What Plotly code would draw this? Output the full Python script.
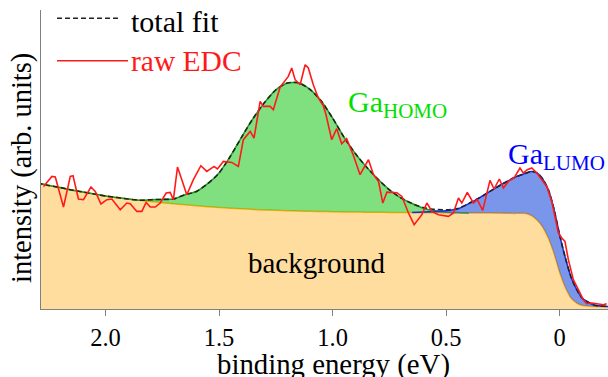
import plotly.graph_objects as go

# ---------------- data ----------------
energy_fit = [2.30, 2.25, 2.20, 2.15, 2.10, 2.05, 2.00, 1.95, 1.90, 1.85, 1.80, 1.75, 1.70, 1.65,
              1.60, 1.55, 1.50, 1.45, 1.40, 1.35, 1.30, 1.25, 1.20, 1.15, 1.10, 1.05, 1.00, 0.95,
              0.90, 0.85, 0.80, 0.75, 0.70, 0.65, 0.60, 0.55, 0.50, 0.45, 0.40, 0.35, 0.30, 0.25,
              0.20, 0.15, 0.125, 0.10, 0.075, 0.05, 0.025, 0.00, -0.025, -0.05, -0.075, -0.10,
              -0.15, -0.22]

background = [126, 123.5, 121.5, 119, 117, 115, 113, 111.5, 110, 108.7, 107.5, 106.3, 105.3, 104.3,
              103.3, 102.3, 101.5, 100.8, 100.2, 99.6, 99.1, 98.7, 98.3, 98, 97.7, 97.5, 97.3, 97.1,
              97, 96.8, 96.7, 96.6, 96.5, 96.4, 96.3, 96.2, 96.1, 96, 96, 96, 95.9, 95.8,
              95.6, 95.5, 93.5, 89, 82, 71, 55.5, 36.5, 21.5, 11, 6, 3.5,
              2.5, 2.3]

homo = [0, 0, 0, 0, 0, 0, 0, 0, 0, 0, 1.8, 3.3, 4.7, 10,
        14.2, 23, 34.5, 52, 72, 91, 107.3, 120.5, 127.7, 128.3, 122, 110.5, 93.6, 74.7,
        58.4, 45, 33, 22.6, 14.7, 9.1, 4.5, 2, 1, 0.4, 0.1, 0, 0, 0,
        0, 0, 0, 0, 0, 0, 0, 0, 0, 0, 0, 0,
        0, 0]

lumo = [0, 0, 0, 0, 0, 0, 0, 0, 0, 0, 0, 0, 0, 0,
        0, 0, 0, 0, 0, 0, 0, 0, 0, 0, 0, 0, 0, 0,
        0, 0, 0, 0, 0, 0, 0.6, 1.4, 2.2, 4.0, 9.4, 15.7, 22.7, 29.5,
        35.8, 40.2, 44.1, 47, 48, 48.2, 44.1, 37.1, 29.5, 20.8, 13.3, 7.1,
        1.5, 0.2]

raw_energy = [2.273, 2.236, 2.221, 2.185, 2.155, 2.143, 2.119, 2.097, 2.064, 2.045,
              2.020, 1.994, 1.972, 1.935, 1.906, 1.891, 1.862, 1.840, 1.821, 1.803,
              1.781, 1.759, 1.733, 1.715, 1.701, 1.683, 1.664, 1.642, 1.613, 1.580,
              1.554, 1.522, 1.507, 1.481, 1.444, 1.415, 1.393, 1.363, 1.346, 1.319,
              1.305, 1.275, 1.261, 1.231, 1.195, 1.180, 1.165, 1.143, 1.121, 1.107,
              1.085, 1.063, 1.041, 1.029, 1.004, 0.982, 0.960, 0.938, 0.908, 0.879,
              0.842, 0.820, 0.798, 0.779, 0.761, 0.717, 0.695, 0.666, 0.641, 0.607,
              0.585, 0.562, 0.534, 0.490, 0.468, 0.446, 0.431, 0.407, 0.380, 0.363,
              0.339, 0.307, 0.289, 0.266, 0.248, 0.226, 0.201, 0.175, 0.160, 0.143,
              0.123, 0.101, 0.079, 0.057, 0.035, 0.021, 0.006, -0.009, -0.023, -0.038,
              -0.060, -0.082, -0.104, -0.119, -0.141, -0.163, -0.192, -0.207]

raw_intensity = [122.6, 132.6, 132.0, 102.0, 132.6, 133.3, 110.0, 109.3, 122.0, 117.6,
                 105.0, 109.3, 110.0, 99.3, 106.0, 105.3, 97.6, 97.6, 106.6, 102.0,
                 102.0, 106.0, 116.0, 116.6, 109.3, 142.0, 129.3, 114.3, 129.3, 143.3,
                 137.6, 142.6, 140.0, 147.6, 146.6, 142.6, 169.3, 177.6, 171.0, 207.6,
                 202.6, 202.6, 199.3, 222.0, 232.6, 241.0, 229.3, 224.3, 244.3, 241.0,
                 224.3, 211.0, 203.3, 194.3, 169.3, 180.3, 165.3, 170.3, 153.3, 134.3,
                 149.3, 134.3, 127.6, 106.0, 116.8, 116.3, 112.6, 96.0, 84.3, 94.3,
                 106.0, 97.3, 94.3, 92.6, 96.0, 111.0, 106.0, 116.6, 106.0, 109.3,
                 98.6, 128.6, 120.0, 130.0, 121.0, 127.6, 131.0, 141.0, 136.0, 139.3,
                 141.0, 136.0, 129.3, 122.6, 107.6, 92.6, 76.0, 71.0, 67.6, 49.3,
                 29.3, 19.3, 9.3, 5.3, 6.0, 5.3, 4.3, 5.3]

tick_values = [2.0, 1.5, 1.0, 0.5, 0.0]
tick_labels = ["2.0", "1.5", "1.0", "0.5", "0"]

# component extents (energy windows where each fitted peak is drawn)
homo_window = (2.30, 0.40)
lumo_window = (0.65, -0.22)

# derived curves
total_fit = [b + h + l for b, h, l in zip(background, homo, lumo)]

def window(hi_lo, comp):
    hi, lo = hi_lo
    idx = [i for i, e in enumerate(energy_fit) if lo <= e <= hi]
    xs = [energy_fit[i] for i in idx]
    top = [background[i] + comp[i] for i in idx]
    bot = [background[i] for i in idx]
    return xs, top, bot

FONT = "Liberation Serif"
SPL = dict(shape="spline", smoothing=0.6)

fig = go.Figure()
fig.add_trace(go.Scatter(x=energy_fit, y=background, mode="lines", fill="tozeroy",
                         fillcolor="rgba(255,165,0,0.38)",
                         line=dict(color="#FFA500", width=1.5, **SPL),
                         showlegend=False, hoverinfo="skip"))

for win, comp, fc, lc in [(homo_window, homo, "rgba(50,205,50,0.62)", "#1f9a1f"),
                          (lumo_window, lumo, "rgba(65,105,225,0.70)", "#1030e0")]:
    xs, top, bot = window(win, comp)
    fig.add_trace(go.Scatter(x=xs + xs[::-1], y=top + bot[::-1], mode="lines", fill="toself",
                             fillcolor=fc, line=dict(color="rgba(0,0,0,0)", width=0, **SPL),
                             showlegend=False, hoverinfo="skip"))
    fig.add_trace(go.Scatter(x=xs, y=top, mode="lines",
                             line=dict(color=lc, width=1.5, **SPL),
                             showlegend=False, hoverinfo="skip"))

fig.add_trace(go.Scatter(x=energy_fit, y=total_fit, mode="lines",
                         line=dict(color="#222222", width=1.6, dash="5px,3px", **SPL),
                         showlegend=False, hoverinfo="skip"))
fig.add_trace(go.Scatter(x=raw_energy, y=raw_intensity, mode="lines",
                         line=dict(color="#ff1a1a", width=1.6),
                         showlegend=False, hoverinfo="skip"))

# legend (drawn manually)
L, W, T, H = 41, 567, 10, 299
def px(x):
    return (x - L) / W
def py(y):
    return (T + H - y) / H

fig.add_shape(type="line", xref="paper", yref="paper", x0=px(57), x1=px(121), y0=py(18.3), y1=py(18.3),
              line=dict(color="#222222", width=1.6, dash="5px,3px"))
fig.add_shape(type="line", xref="paper", yref="paper", x0=px(57), x1=px(128), y0=py(60.7), y1=py(60.7),
              line=dict(color="#ff1a1a", width=1.6))
fig.add_annotation(xref="paper", yref="paper", x=px(129), y=py(22), text="total fit",
                   showarrow=False, xanchor="left", yanchor="middle",
                   font=dict(family=FONT, size=30, color="black"))
fig.add_annotation(xref="paper", yref="paper", x=px(129), y=py(61), text="raw EDC",
                   showarrow=False, xanchor="left", yanchor="middle",
                   font=dict(family=FONT, size=29.5, color="#ff1a1a"))

# region labels
fig.add_annotation(x=1.073, y=46, text="background", showarrow=False,
                   xanchor="center", yanchor="middle",
                   font=dict(family=FONT, size=29, color="black"))
fig.add_annotation(x=0.715, y=205, text="Ga<sub>HOMO</sub>", showarrow=False,
                   xanchor="center", yanchor="middle",
                   font=dict(family=FONT, size=30, color="#00e000"))
fig.add_annotation(x=0.012, y=153, text="Ga<sub>LUMO</sub>", showarrow=False,
                   xanchor="center", yanchor="middle",
                   font=dict(family=FONT, size=30, color="#0000ff"))

# axis titles
fig.add_annotation(xref="paper", yref="paper", x=px(22), y=py(168), text="intensity (arb. units)",
                   showarrow=False, textangle=-90, xanchor="center", yanchor="middle",
                   font=dict(family=FONT, size=28.5, color="black"))
fig.add_annotation(xref="paper", yref="paper", x=px(333.5), y=py(364), text="binding energy (eV)",
                   showarrow=False, xanchor="center", yanchor="middle",
                   font=dict(family=FONT, size=28.8, color="black"))

fig.update_layout(
    width=608, height=377,
    margin=dict(l=L, r=0, t=T, b=377 - T - H),
    paper_bgcolor="white", plot_bgcolor="white",
    showlegend=False,
    font=dict(family=FONT, color="black"),
    xaxis=dict(range=[2.284, -0.2126], showgrid=False, zeroline=False,
               showline=True, linecolor="#808080", linewidth=1.3,
               ticks="outside", ticklen=6, tickwidth=1.2, tickcolor="#808080",
               tickvals=tick_values, ticktext=tick_labels,
               tickfont=dict(family=FONT, size=24.5, color="black")),
    yaxis=dict(range=[0, 299], showgrid=False, zeroline=False,
               showline=True, linecolor="#808080", linewidth=1.3,
               showticklabels=False, ticks=""),
)

fig.write_html("out.html", config={"displayModeBar": False},
               post_script="document.body.style.margin='0';document.body.style.overflow='hidden';")
